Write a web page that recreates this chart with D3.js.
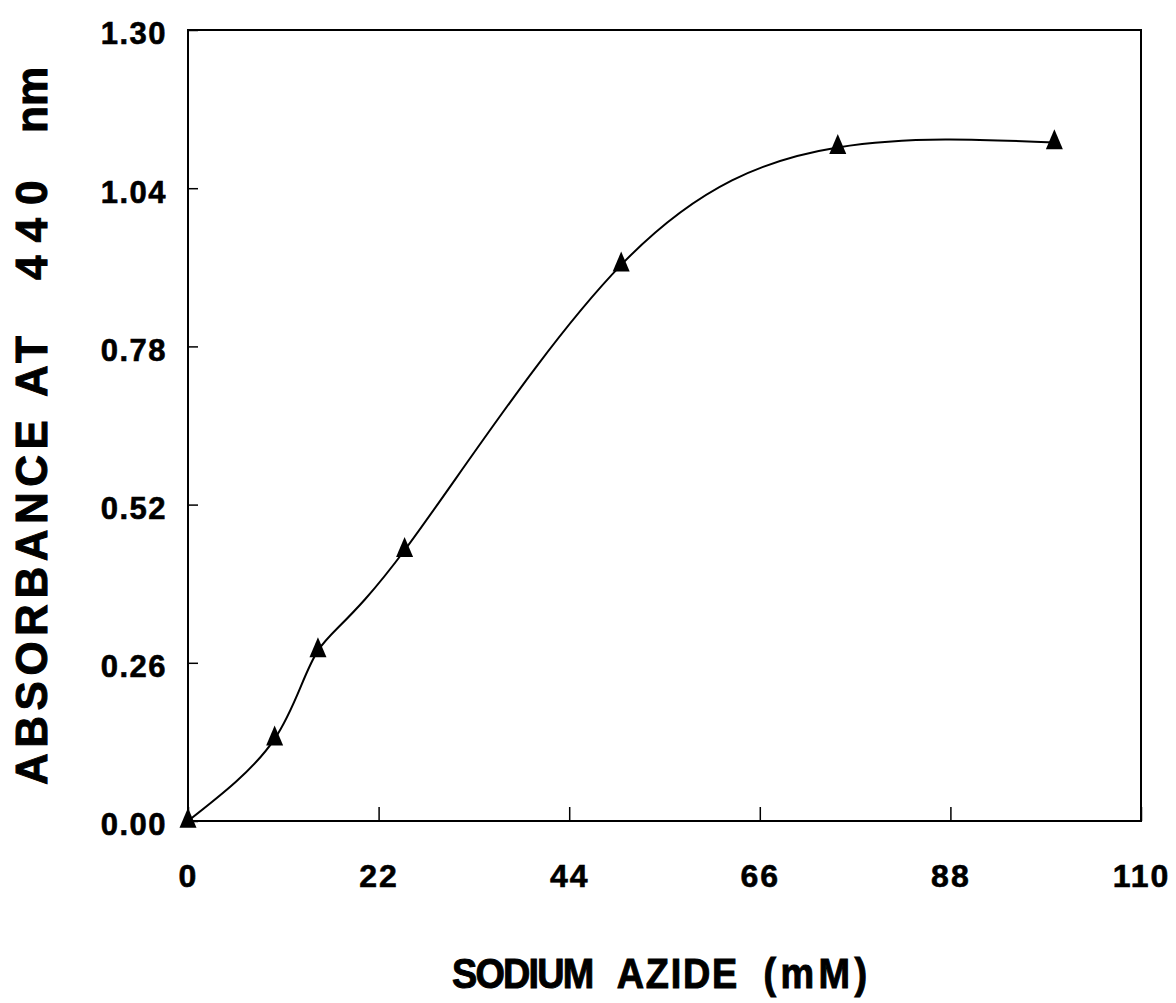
<!DOCTYPE html>
<html lang="en">
    <head>
        <meta charset="utf-8">
        <title>Sodium Azide Absorbance</title>
        <script src="https://d3js.org/d3.v7.min.js"></script>
        <style type="text/css">
            body{
                margin: 0;
                background: white;
            }
            .tick text{
                font-family: "Liberation Sans", Arial, sans-serif;
                font-weight: bold;
                fill: black;
                stroke: black;
                stroke-width: 0.6px;
            }
            .axis-title{
                font-family: "Liberation Sans", Arial, sans-serif;
                font-weight: bold;
                fill: black;
                stroke: black;
                stroke-width: 1px;
            }
        </style>
    </head>
    <body>
        <script type="text/javascript">

            //data
            const azide = [0, 10, 15, 25, 50, 75, 100];
            const absorbance = [0.0, 0.135, 0.28, 0.445, 0.914, 1.107, 1.115];

            //tick labels
            const xTicks = [0, 22, 44, 66, 88, 110];
            const yTicks = [0, 0.26, 0.52, 0.78, 1.04, 1.30];

            const w = 1176;
            const h = 1003;
            const plotLeft = 188, plotRight = 1141, plotTop = 30, plotBottom = 821;

            const data = azide.map((x, i) => ({x: x, y: absorbance[i]}));

            const xScale = d3.scaleLinear().domain([0, 110]).range([plotLeft, plotRight]);
            const yScale = d3.scaleLinear().domain([0, 1.30]).range([plotBottom, plotTop]);

            const svg = d3.select("body")
                    .append("svg")
                    .attr("width", w)
                    .attr("height", h);

            svg.append("rect")
                .attr("width", w)
                .attr("height", h)
                .attr("fill", "white");

            //x axis, ticks point up into the plot
            const xAxis = d3.axisBottom(xScale)
                    .tickValues(xTicks)
                    .tickFormat(d3.format("d"))
                    .tickSize(-14)
                    .tickPadding(43);

            const gx = svg.append("g")
                .attr("transform", "translate(0," + plotBottom + ")")
                .call(xAxis);
            gx.select(".domain").remove();
            gx.selectAll(".tick line").attr("stroke", "black").attr("stroke-width", 1.5);
            gx.selectAll(".tick text")
                .style("font-size", "32px")
                .style("letter-spacing", "2px");

            //y axis
            const yAxis = d3.axisLeft(yScale)
                    .tickValues(yTicks)
                    .tickFormat(d3.format(".2f"))
                    .tickSize(-10)
                    .tickPadding(21);

            const gy = svg.append("g")
                .attr("transform", "translate(" + plotLeft + ",0)")
                .call(yAxis);
            gy.select(".domain").remove();
            gy.selectAll(".tick line").attr("stroke", "black").attr("stroke-width", 1.5);
            gy.selectAll(".tick text")
                .attr("dy", "0.45em")
                .style("font-size", "31px")
                .style("letter-spacing", "1.5px");

            //frame
            svg.append("rect")
                .attr("x", plotLeft)
                .attr("y", plotTop)
                .attr("width", plotRight - plotLeft)
                .attr("height", plotBottom - plotTop)
                .attr("fill", "none")
                .attr("stroke", "black")
                .attr("stroke-width", 2);

            //smooth curve through the points
            const line = d3.line()
                    .x(d => xScale(d.x))
                    .y(d => yScale(d.y))
                    .curve(d3.curveNatural);

            svg.append("path")
                .datum(data)
                .attr("d", line)
                .attr("fill", "none")
                .attr("stroke", "black")
                .attr("stroke-width", 2);

            //tall filled triangle marker
            const tallTriangle = {
                draw(context, size) {
                    const hw = 8.5, ht = 20;
                    context.moveTo(0, -ht * 2 / 3);
                    context.lineTo(hw, ht / 3);
                    context.lineTo(-hw, ht / 3);
                    context.closePath();
                }
            };

            svg.selectAll("path.marker")
                .data(data)
                .enter()
                .append("path")
                .attr("class", "marker")
                .attr("transform", d => "translate(" + xScale(d.x) + "," + yScale(d.y) + ")")
                .attr("d", d3.symbol().type(tallTriangle))
                .attr("fill", "black");

            //x title, squeezed to look condensed
            const xt = svg.append("text")
                .attr("class", "axis-title")
                .attr("transform", "translate(452,988) scale(0.9,1)")
                .style("font-size", "42px");
            [["SODIUM", 0, -2], ["AZIDE", 183, 2], ["(mM)", 346, 5]].forEach(p => {
                xt.append("tspan")
                    .attr("x", p[1])
                    .style("letter-spacing", p[2] + "px")
                    .text(p[0]);
            });

            //y title, word by word
            const yt = svg.append("text")
                .attr("class", "axis-title")
                .attr("transform", "translate(47,785) rotate(-90)")
                .style("font-size", "44px");
            [["ABSORBANCE", 0, 5.5], ["AT", 388, 5.5], ["440", 505, 13], ["nm", 652, 0]].forEach(p => {
                yt.append("tspan")
                    .attr("x", p[1])
                    .style("letter-spacing", p[2] + "px")
                    .text(p[0]);
            });

        </script>
    </body>
</html>
